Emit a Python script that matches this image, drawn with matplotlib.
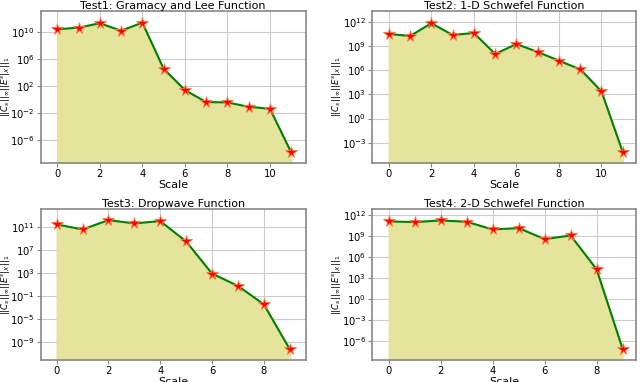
import matplotlib
matplotlib.use("Agg")
import matplotlib.pyplot as plt
import numpy as np

# log10 of ||C_s|| * ||E^s|_X||_1
titles = ["Test1: Gramacy and Lee Function", "Test2: 1-D Schwefel Function",
          "Test3: Dropwave Function", "Test4: 2-D Schwefel Function"]
test1 = [10.4, 10.64, 11.29, 10.19, 11.38, 4.56, 1.41, -0.37, -0.42, -1.07, -1.36, -7.82]
test2 = [10.51, 10.26, 11.84, 10.38, 10.63, 8.02, 9.26, 8.27, 7.19, 6.12, 3.38, -4.17]
test3 = [11.41, 10.54, 12.16, 11.58, 11.99, 8.45, 2.88, 0.74, -2.45, -10.22]
test4 = [11.14, 11.04, 11.28, 11.09, 9.98, 10.18, 8.59, 9.12, 4.27, -7.15]
series = [test1, test2, test3, test4]

yticks = [[10, 6, 2, -2, -6],
          [12, 9, 6, 3, 0, -3],
          [11, 7, 3, -1, -5, -9],
          [12, 9, 6, 3, 0, -3, -6]]
ylims = [(-9.4, 13.15), (-5.53, 13.4), (-12.13, 14.07), (-8.78, 12.91)]
xlims = [(-0.78, 11.68), (-0.77, 11.6), (-0.62, 9.62), (-0.63, 9.5)]

positions = [[0.0636, 0.573, 0.414, 0.399],
             [0.582, 0.573, 0.411, 0.399],
             [0.0636, 0.0576, 0.414, 0.395],
             [0.582, 0.0576, 0.411, 0.395]]
label_x = [-0.108, -0.113, -0.108, -0.113]

fig = plt.figure(figsize=(6.4, 3.82), dpi=100)

for i, vals in enumerate(series):
    ax = fig.add_axes(positions[i])
    x = np.arange(len(vals))
    y = 10.0 ** np.array(vals)
    ax.set_yscale('log')
    lo = 10.0 ** ylims[i][0]
    ax.fill_between(x, lo, y, color='#e4e49c', zorder=1)
    ax.plot(x, y, color='green', linewidth=1.5, zorder=3)
    ax.plot(x, y, linestyle='none', marker='*', markersize=8.5,
            markerfacecolor='red', markeredgecolor='#ff7a40', markeredgewidth=0.6, zorder=4)
    ax.set_ylim(lo, 10.0 ** ylims[i][1])
    ax.set_xlim(*xlims[i])
    ax.set_yticks([10.0 ** t for t in yticks[i]])
    ax.set_yticklabels([r'$10^{%d}$' % t for t in yticks[i]])
    ax.minorticks_off()
    ax.set_xticks(range(0, len(vals), 2))
    ax.tick_params(labelsize=7.2, length=3, pad=1.5, color='#888888')
    ax.grid(True, color='#cccccc', linewidth=0.8, zorder=0)
    ax.set_axisbelow(True)
    for s in ax.spines.values():
        s.set_color('#888888')
        s.set_linewidth(1.2)
    ax.set_title(titles[i], fontsize=8, pad=1.5)
    ax.set_xlabel('Scale', fontsize=8, labelpad=0.5)
    ax.set_ylabel(r'$||C_s||_\infty||E^s|_X||_1$', fontsize=6.2)
    ax.yaxis.set_label_coords(label_x[i], 0.5)

fig.savefig('out.png', dpi=100)
